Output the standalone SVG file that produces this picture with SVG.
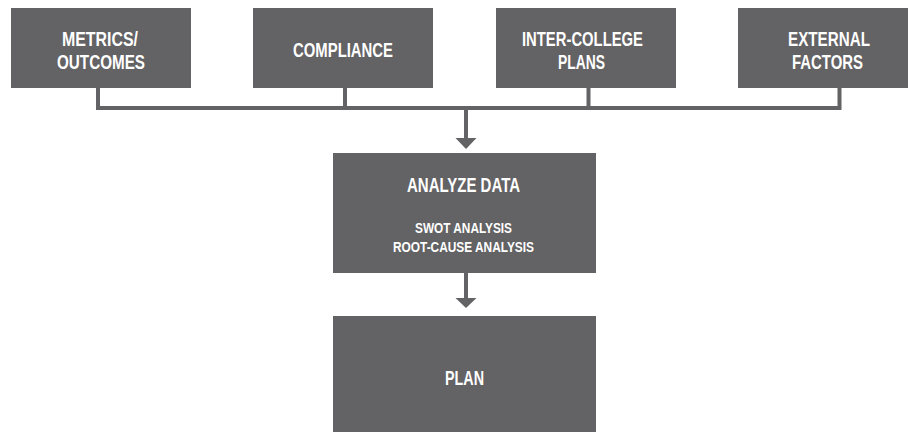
<svg xmlns="http://www.w3.org/2000/svg" width="908" height="432" viewBox="0 0 908 432">
<style>
.box{fill:#636264}
.t{font-family:"Liberation Sans Narrow","Liberation Sans",Arial,sans-serif;font-weight:bold;fill:#ffffff;text-anchor:middle}
.big{font-size:21px}
.small{font-size:14.5px}
.ln{stroke:#636264;stroke-width:4;fill:none}
.hd{fill:#636264}
</style>
<rect width="908" height="432" fill="#ffffff"/>
<g id="connectors">
<path class="ln" d="M98 88V108M345 88V108M588.5 88V108M839.5 88V108M96 108H841.5"/>
<path class="ln" d="M466 108V139"/>
<polygon class="hd" points="455.5,138 476.5,138 466,149"/>
<path class="ln" d="M466 273V299"/>
<polygon class="hd" points="455.5,298 476.5,298 466,308"/>
</g>
<g id="metrics">
<rect class="box" x="11" y="8" width="180" height="80"/>
<text class="t big" x="100" y="46" textLength="76" lengthAdjust="spacingAndGlyphs">METRICS/</text>
<text class="t big" x="101" y="69" textLength="88" lengthAdjust="spacingAndGlyphs">OUTCOMES</text>
</g>
<g id="compliance">
<rect class="box" x="253" y="8" width="180" height="80"/>
<text class="t big" x="343" y="57" textLength="100" lengthAdjust="spacingAndGlyphs">COMPLIANCE</text>
</g>
<g id="intercollege">
<rect class="box" x="496" y="8" width="180" height="80"/>
<text class="t big" x="582.5" y="46" textLength="121" lengthAdjust="spacingAndGlyphs">INTER-COLLEGE</text>
<text class="t big" x="581.5" y="69" textLength="47" lengthAdjust="spacingAndGlyphs">PLANS</text>
</g>
<g id="external">
<rect class="box" x="738" y="8" width="180" height="80"/>
<text class="t big" x="829" y="46" textLength="82" lengthAdjust="spacingAndGlyphs">EXTERNAL</text>
<text class="t big" x="827.5" y="69" textLength="71" lengthAdjust="spacingAndGlyphs">FACTORS</text>
</g>
<g id="analyze">
<rect class="box" x="333" y="153" width="263" height="120"/>
<text class="t big" x="463.5" y="192" textLength="113" lengthAdjust="spacingAndGlyphs">ANALYZE DATA</text>
<text class="t small" x="463.5" y="233" textLength="97" lengthAdjust="spacingAndGlyphs">SWOT ANALYSIS</text>
<text class="t small" x="463.5" y="252" textLength="141" lengthAdjust="spacingAndGlyphs">ROOT-CAUSE ANALYSIS</text>
</g>
<g id="plan">
<rect class="box" x="333" y="316" width="263" height="130"/>
<text class="t big" x="464.5" y="385" textLength="39" lengthAdjust="spacingAndGlyphs">PLAN</text>
</g>
</svg>
